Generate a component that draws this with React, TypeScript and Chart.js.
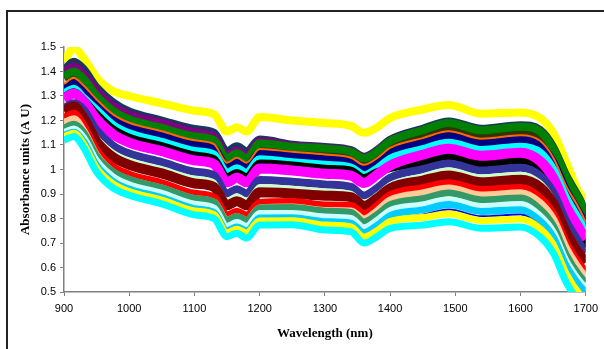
import React, { useEffect, useRef } from "react";
import { Chart, registerables } from "chart.js";

Chart.register(...registerables);

// Wavelength sampling points (nm)
const wavelengths = [900, 915, 930, 950, 975, 1000, 1050, 1100, 1130, 1150, 1165, 1180, 1200, 1250, 1300, 1340, 1360, 1380, 1400, 1450, 1490, 1540, 1600, 1630, 1650, 1670, 1690, 1700];

// Absorbance spectra (A U)
const yellowTop = [1.44, 1.495, 1.455, 1.375, 1.32, 1.3, 1.27, 1.24, 1.225, 1.155, 1.172, 1.155, 1.214, 1.2, 1.19, 1.178, 1.15, 1.172, 1.21, 1.245, 1.263, 1.228, 1.233, 1.21, 1.15, 1.03, 0.905, 0.875];
const darkTeal = [1.405, 1.44, 1.41, 1.335, 1.275, 1.237, 1.2, 1.165, 1.15, 1.075, 1.095, 1.075, 1.122, 1.101, 1.092, 1.079, 1.052, 1.079, 1.121, 1.166, 1.196, 1.166, 1.181, 1.161, 1.092, 0.976, 0.882, 0.826];
const purple = [1.395, 1.42, 1.39, 1.32, 1.26, 1.225, 1.19, 1.152, 1.135, 1.058, 1.078, 1.058, 1.115, 1.098, 1.088, 1.075, 1.048, 1.075, 1.115, 1.16, 1.18, 1.15, 1.165, 1.145, 1.078, 0.962, 0.868, 0.812];
const darkOlive = [1.375, 1.395, 1.365, 1.295, 1.235, 1.2, 1.165, 1.13, 1.115, 1.041, 1.061, 1.041, 1.098, 1.078, 1.068, 1.052, 1.026, 1.052, 1.092, 1.136, 1.163, 1.135, 1.15, 1.13, 1.06, 0.945, 0.853, 0.795];
const green = [1.38, 1.4, 1.37, 1.3, 1.24, 1.205, 1.17, 1.135, 1.12, 1.046, 1.066, 1.046, 1.107, 1.093, 1.086, 1.073, 1.046, 1.073, 1.115, 1.16, 1.19, 1.16, 1.175, 1.155, 1.086, 0.97, 0.876, 0.82];
const navy = [1.331, 1.355, 1.325, 1.268, 1.207, 1.173, 1.138, 1.101, 1.086, 1.01, 1.03, 1.01, 1.066, 1.054, 1.043, 1.03, 1.001, 1.028, 1.07, 1.11, 1.138, 1.108, 1.122, 1.099, 1.031, 0.914, 0.822, 0.767];
const orange = [1.349, 1.373, 1.343, 1.286, 1.225, 1.191, 1.156, 1.119, 1.104, 1.028, 1.048, 1.028, 1.084, 1.072, 1.061, 1.048, 1.019, 1.046, 1.088, 1.128, 1.156, 1.126, 1.14, 1.117, 1.049, 0.932, 0.84, 0.785];
const cyanMid = [1.31, 1.33, 1.292, 1.243, 1.182, 1.148, 1.113, 1.076, 1.061, 0.987, 1.005, 0.987, 1.042, 1.03, 1.019, 1.008, 0.977, 1.004, 1.044, 1.083, 1.109, 1.08, 1.093, 1.069, 1.001, 0.884, 0.793, 0.744];
const black = [1.294, 1.315, 1.283, 1.225, 1.164, 1.13, 1.095, 1.057, 1.042, 0.968, 0.986, 0.968, 1.024, 1.016, 1.003, 0.995, 0.965, 0.989, 1.006, 1.03, 1.055, 1.026, 1.038, 1.004, 0.936, 0.819, 0.729, 0.684];
const magenta = [1.289, 1.31, 1.278, 1.205, 1.144, 1.11, 1.075, 1.037, 1.022, 0.948, 0.966, 0.948, 1.004, 0.996, 0.983, 0.975, 0.945, 0.979, 1.016, 1.06, 1.085, 1.056, 1.068, 1.034, 0.966, 0.849, 0.759, 0.714];
const indigo = [1.25, 1.27, 1.244, 1.16, 1.098, 1.065, 1.03, 0.991, 0.976, 0.902, 0.919, 0.902, 0.957, 0.95, 0.939, 0.929, 0.894, 0.924, 0.966, 1.001, 1.025, 0.996, 1.007, 0.974, 0.907, 0.789, 0.701, 0.66];
const lightGreen = [1.228, 1.248, 1.222, 1.138, 1.076, 1.043, 1.008, 0.969, 0.954, 0.88, 0.897, 0.88, 0.935, 0.928, 0.917, 0.907, 0.872, 0.902, 0.944, 0.979, 1.003, 0.974, 0.985, 0.952, 0.885, 0.767, 0.679, 0.638];
const maroon = [1.24, 1.257, 1.21, 1.114, 1.051, 1.019, 0.984, 0.943, 0.928, 0.854, 0.87, 0.854, 0.907, 0.902, 0.893, 0.887, 0.852, 0.882, 0.923, 0.955, 0.976, 0.948, 0.958, 0.927, 0.86, 0.742, 0.656, 0.62];
const red = [1.211, 1.228, 1.177, 1.077, 1.01, 0.979, 0.944, 0.901, 0.886, 0.812, 0.828, 0.812, 0.863, 0.867, 0.853, 0.851, 0.818, 0.851, 0.895, 0.924, 0.944, 0.916, 0.925, 0.884, 0.818, 0.699, 0.614, 0.581];
const tan = [1.19, 1.205, 1.155, 1.055, 0.988, 0.957, 0.922, 0.879, 0.864, 0.79, 0.806, 0.79, 0.841, 0.845, 0.831, 0.829, 0.796, 0.829, 0.873, 0.902, 0.922, 0.894, 0.903, 0.862, 0.796, 0.677, 0.592, 0.559];
const seaGreen = [1.169, 1.185, 1.152, 1.055, 0.991, 0.96, 0.925, 0.882, 0.867, 0.793, 0.808, 0.793, 0.843, 0.845, 0.83, 0.825, 0.786, 0.816, 0.856, 0.881, 0.904, 0.876, 0.884, 0.837, 0.771, 0.652, 0.568, 0.539];
const lightTurquoise = [1.15, 1.165, 1.13, 1.035, 0.97, 0.938, 0.903, 0.858, 0.843, 0.768, 0.784, 0.768, 0.82, 0.82, 0.806, 0.8, 0.762, 0.792, 0.832, 0.855, 0.877, 0.849, 0.857, 0.81, 0.745, 0.626, 0.545, 0.515];
const skyBlue = [1.14, 1.152, 1.115, 1.017, 0.952, 0.92, 0.885, 0.84, 0.824, 0.75, 0.765, 0.75, 0.802, 0.803, 0.787, 0.781, 0.742, 0.772, 0.812, 0.835, 0.857, 0.829, 0.836, 0.79, 0.725, 0.607, 0.528, 0.5];
const blue = [1.12, 1.132, 1.095, 0.997, 0.932, 0.9, 0.865, 0.82, 0.804, 0.73, 0.745, 0.73, 0.782, 0.783, 0.767, 0.761, 0.722, 0.752, 0.792, 0.815, 0.837, 0.809, 0.816, 0.77, 0.705, 0.587, 0.508, 0.48];
const yellowLow = [1.133, 1.148, 1.104, 1.005, 0.941, 0.91, 0.875, 0.831, 0.816, 0.742, 0.756, 0.742, 0.79, 0.791, 0.773, 0.766, 0.724, 0.75, 0.788, 0.804, 0.819, 0.792, 0.798, 0.759, 0.694, 0.574, 0.493, 0.47];
const cyanLow = [1.12, 1.135, 1.09, 0.99, 0.925, 0.895, 0.86, 0.815, 0.8, 0.726, 0.74, 0.72, 0.773, 0.775, 0.753, 0.746, 0.7, 0.726, 0.76, 0.773, 0.787, 0.76, 0.765, 0.725, 0.66, 0.54, 0.46, 0.44];

// Axis ticks
const xTicks = [900, 1000, 1100, 1200, 1300, 1400, 1500, 1600, 1700];
const yTicks = [0.5, 0.6, 0.7, 0.8, 0.9, 1, 1.1, 1.2, 1.3, 1.4, 1.5];

// Series in drawing order (first drawn underneath)
const seriesList = [
  { data: yellowTop, color: "#FFFF00", width: 8 },
  { data: darkTeal, color: "#17375E", width: 8 },
  { data: purple, color: "#800080", width: 8 },
  { data: darkOlive, color: "#333300", width: 8 },
  { data: green, color: "#008000", width: 8 },
  { data: navy, color: "#000080", width: 8 },
  { data: orange, color: "#FF6600", width: 2 },
  { data: cyanMid, color: "#00FFFF", width: 8 },
  { data: black, color: "#000000", width: 8 },
  { data: magenta, color: "#FF00FF", width: 10 },
  { data: indigo, color: "#333399", width: 8 },
  { data: lightGreen, color: "#CCFFCC", width: 3 },
  { data: maroon, color: "#800000", width: 10 },
  { data: red, color: "#FF0000", width: 8 },
  { data: tan, color: "#FFCC99", width: 8 },
  { data: seaGreen, color: "#339966", width: 7 },
  { data: lightTurquoise, color: "#CCFFFF", width: 7 },
  { data: skyBlue, color: "#00CCFF", width: 7 },
  { data: blue, color: "#0000FF", width: 2 },
  { data: yellowLow, color: "#FFFF00", width: 7 },
  { data: cyanLow, color: "#00FFFF", width: 7 },
];

export default function App() {
  const canvasRef = useRef<HTMLCanvasElement | null>(null);

  useEffect(() => {
    const canvas = canvasRef.current;
    if (!canvas) return;
    const n = seriesList.length;
    const chart = new Chart(canvas, {
      type: "line",
      data: {
        datasets: seriesList.map((s, i) => ({
          label: "S" + (i + 1),
          data: wavelengths.map((w, k) => ({ x: w, y: s.data[k] })),
          borderColor: s.color,
          backgroundColor: s.color,
          borderWidth: s.width,
          pointRadius: 0,
          fill: false,
          cubicInterpolationMode: "monotone" as const,
          borderJoinStyle: "round" as const,
          order: n - i,
        })),
      },
      options: {
        animation: false,
        responsive: false,
        devicePixelRatio: 1,
        layout: { padding: { left: 0, top: 47, right: 17, bottom: 0 } },
        plugins: { legend: { display: false }, tooltip: { enabled: false } },
        scales: {
          x: {
            type: "linear",
            min: 900,
            max: 1700,
            afterFit: (scale: any) => {
              scale.height = 57;
            },
            afterBuildTicks: (scale: any) => {
              scale.ticks = xTicks.map((v) => ({ value: v }));
            },
            ticks: {
              color: "#000",
              font: { family: "Liberation Sans, Arial", size: 11 },
              padding: 6,
              maxRotation: 0,
              callback: (v: any) => String(v),
            },
            grid: { drawOnChartArea: false, drawTicks: true, tickLength: 4, color: "#808080", lineWidth: 1 },
            border: { display: true, color: "#808080", width: 1.5 },
            title: {
              display: true,
              text: "Wavelength (nm)",
              color: "#000",
              font: { family: "Liberation Serif, Times New Roman", size: 13, weight: "bold" },
              padding: { top: 0, bottom: 8 },
            },
          },
          y: {
            type: "linear",
            min: 0.5,
            max: 1.5,
            afterFit: (scale: any) => {
              scale.width = 64;
            },
            afterBuildTicks: (scale: any) => {
              scale.ticks = yTicks.map((v) => ({ value: v }));
            },
            ticks: {
              color: "#000",
              font: { family: "Liberation Sans, Arial", size: 11 },
              padding: 4,
              callback: (v: any) => String(Math.round(Number(v) * 10) / 10),
            },
            grid: { drawOnChartArea: false, drawTicks: true, tickLength: 4, color: "#808080", lineWidth: 1 },
            border: { display: true, color: "#808080", width: 1.5 },
            title: {
              display: true,
              text: "Absorbance units (A U)",
              color: "#000",
              font: { family: "Liberation Serif, Times New Roman", size: 13, weight: "bold" },
              padding: { top: 18, bottom: 0 },
            },
          },
        },
      },
    });
    return () => chart.destroy();
  }, []);

  return (
    <div
      style={{
        position: "fixed",
        left: 0,
        top: 0,
        width: 604,
        height: 349,
        overflow: "hidden",
        background: "#fff",
      }}
    >
      <div
        style={{
          position: "absolute",
          left: 6,
          top: 10,
          width: 700,
          height: 400,
          borderLeft: "2px solid #222",
          borderTop: "2px solid #222",
        }}
      />
      <canvas
        ref={canvasRef}
        width={604}
        height={349}
        style={{ position: "absolute", left: 0, top: 0, width: 604, height: 349 }}
      />
    </div>
  );
}
